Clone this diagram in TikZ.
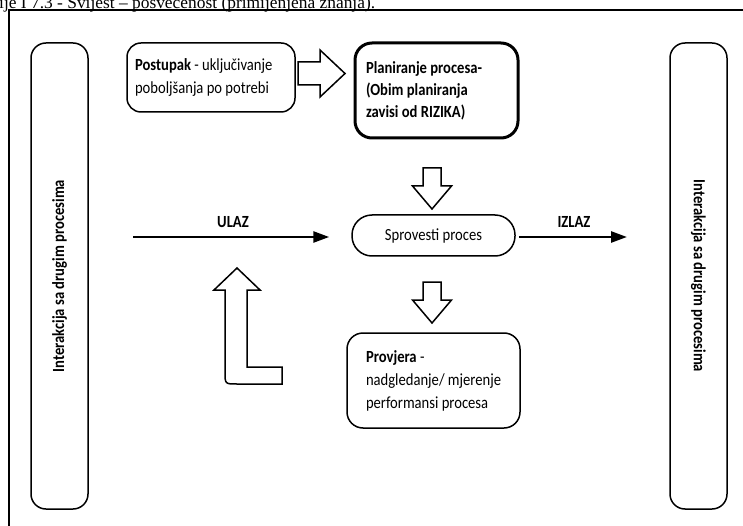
\documentclass[tikz,border=0pt]{standalone}
\usepackage{fontspec}
\usetikzlibrary{arrows.meta,calc}
\newfontfamily\capfont{Liberation Serif}
\newfontfamily\dfont[FakeStretch=0.86]{Carlito}
\begin{document}
\begin{tikzpicture}[x=1pt,y=-1pt,
  box/.style={draw, line width=1.5pt, rounded corners=15pt, inner sep=0pt,
    font=\dfont\fontsize{17}{23}\selectfont, align=flush left},
  hollow/.style={draw, line width=1.5pt, fill=white, line join=miter},
  flow/.style={line width=2.5pt, -{Triangle[length=16pt,width=11pt]}},
  lbl/.style={font=\dfont\bfseries\fontsize{17}{20}\selectfont, inner sep=0pt}]
\useasboundingbox (0,0) rectangle (743,526);
\clip (0,0) rectangle (743,526);
% caption (cut at the top)
\node[anchor=base west, inner sep=0pt] (cap) at (-1,8.5)
  {\capfont\fontsize{17.4}{19}\selectfont ije I 7.3 - Svijest – posvećenost (primijenjena znanja).};
% frame
\draw[line width=2pt] (8,10.5) -- (743,10.5);
\draw[line width=2.5pt] (9,10) -- (9,526);
% side boxes
\node[box, align=center, rotate=90, minimum width=466pt, minimum height=57pt] (L) at (59.5,276)
  {\bfseries Interakcija sa drugim procesima};
\node[box, align=center, rotate=-90, minimum width=466pt, minimum height=57pt] (R) at (698.5,276)
  {\bfseries Interakcija sa drugim procesima};
% top boxes
\node[box, rounded corners=14pt, text width=152pt, inner xsep=8pt, minimum height=69pt] (post) at (211,77.5)
  {\textbf{Postupak} - uključivanje\\poboljšanja po potrebi};
\node[box, line width=3pt, rounded corners=17pt, text width=141pt, inner xsep=11pt, minimum height=95pt,
  font=\dfont\bfseries\fontsize{17}{22}\selectfont] (plan) at (436.5,90.5)
  {Planiranje procesa-\\(Obim planiranja\\zavisi od RIZIKA)};
% process
\node[box, align=center, rounded corners=20pt, minimum width=163pt, minimum height=41pt] (sp) at (433.5,235.5)
  {Sprovesti proces};
% check
\node[box, rounded corners=16pt, text width=151pt, inner xsep=11pt, minimum height=95pt] (prov) at (433.5,380.5)
  {\hspace*{8pt}\textbf{Provjera} -\\\hspace*{8pt}nadgledanje/ mjerenje\\\hspace*{8pt}performansi procesa};
% input / output
\coordinate (in) at (133,237);
\coordinate (out) at (627,237);
\draw[flow, shorten >=22pt] (in) -- (in -| sp.west);
\draw[flow, shorten <=3pt] (sp.east |- out) -- (out);
\node[lbl] (ulaz) at (233,222) {ULAZ};
\node[lbl] (izlaz) at (574,222) {IZLAZ};
% hollow arrows
\draw[hollow] (298,62) -- (320,62) -- (320,50) -- (345,73.5) -- (320,97) -- (320,85) -- (298,85) -- cycle;
\draw[hollow] (423,168) -- (441,168) -- (441,186) -- (451.5,186) -- (432,209) -- (412.5,186) -- (423,186) -- cycle;
\draw[hollow] (423,282) -- (441,282) -- (441,300) -- (451.5,300) -- (432,323) -- (412.5,300) -- (423,300) -- cycle;
\draw[hollow] (237,268) -- (260,290) -- (247,290) -- (247,367) -- (282,367) -- (282,384)
  -- (237,384) .. controls (225,384) .. (225,372) -- (225,290) -- (214,290) -- cycle;
\end{tikzpicture}
\end{document}
